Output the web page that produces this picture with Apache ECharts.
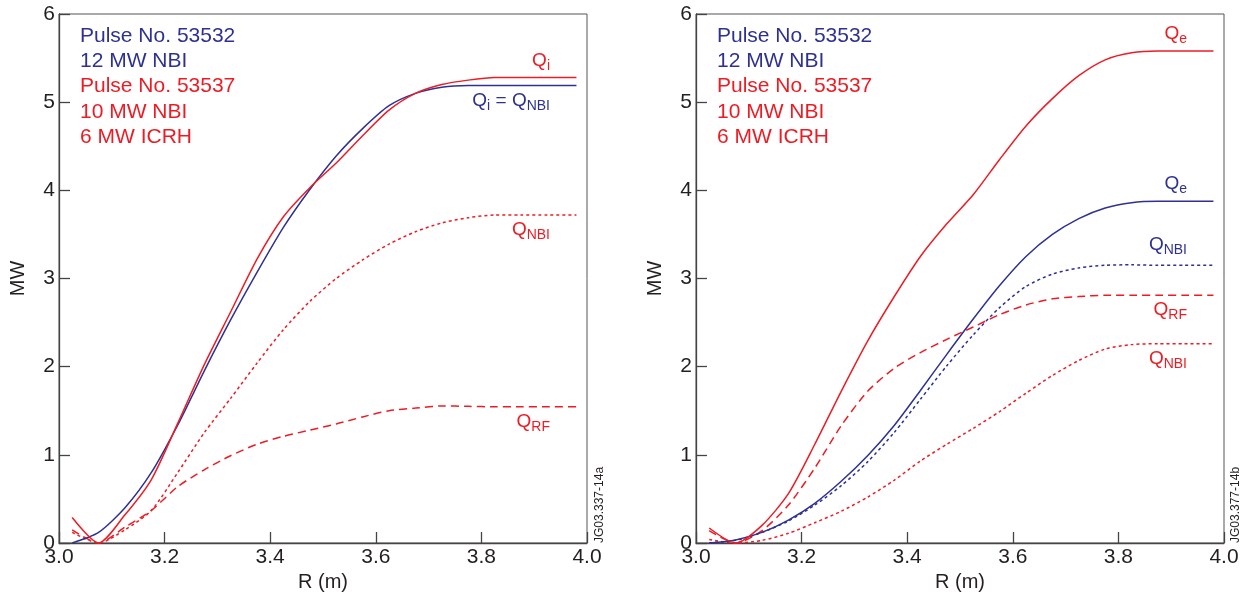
<!DOCTYPE html>
<html>
<head>
<meta charset="utf-8">
<script src="https://cdn.jsdelivr.net/npm/echarts@6/dist/echarts.min.js"></script>
<style>
  html, body { margin: 0; padding: 0; background: #fff; }
  #chart { width: 1251px; height: 599px; }
</style>
</head>
<body>
<div id="chart"></div>
<script>
// R (m) sample points shared by all curves
var rGrid = [3.025, 3.075, 3.125, 3.175, 3.225, 3.275, 3.325, 3.375, 3.425, 3.475,
  3.525, 3.575, 3.625, 3.675, 3.725, 3.775, 3.825, 3.875, 3.925, 3.98];

// left panel (a)
var leftQiNbiBlue = [0, 0.12, 0.40, 0.80, 1.34, 1.95, 2.53, 3.07, 3.58, 4.01,
  4.39, 4.70, 4.96, 5.10, 5.17, 5.19, 5.19, 5.19, 5.19, 5.19];
var leftQiRed = [0.29, 0, 0.32, 0.72, 1.36, 2.02, 2.62, 3.22, 3.70, 4.03,
  4.31, 4.62, 4.91, 5.10, 5.20, 5.25, 5.28, 5.28, 5.28, 5.28];
var leftQnbiRed = [0.12, 0, 0.15, 0.37, 0.80, 1.25, 1.64, 2.04, 2.42, 2.74,
  3.00, 3.21, 3.39, 3.53, 3.63, 3.69, 3.72, 3.72, 3.72, 3.72];
var leftQrfRed = [0.15, 0, 0.18, 0.37, 0.64, 0.83, 0.99, 1.12, 1.21, 1.28,
  1.35, 1.43, 1.50, 1.53, 1.555, 1.55, 1.545, 1.545, 1.545, 1.545];

// right panel (b)
var rightQeRed = [0.17, 0, 0.20, 0.56, 1.12, 1.72, 2.29, 2.79, 3.25, 3.62,
  3.95, 4.35, 4.73, 5.04, 5.30, 5.48, 5.56, 5.58, 5.58, 5.58];
var rightQrfRed = [0.14, 0, 0.14, 0.43, 0.85, 1.33, 1.72, 1.98, 2.16, 2.31,
  2.45, 2.59, 2.70, 2.77, 2.795, 2.81, 2.81, 2.81, 2.81, 2.81];
var rightQeBlue = [0, 0.035, 0.12, 0.26, 0.45, 0.70, 0.99, 1.33, 1.73, 2.14,
  2.54, 2.92, 3.25, 3.50, 3.68, 3.80, 3.86, 3.875, 3.875, 3.875];
var rightQnbiBlue = [0, 0.03, 0.12, 0.25, 0.43, 0.65, 0.92, 1.25, 1.63, 2.01,
  2.36, 2.67, 2.91, 3.05, 3.12, 3.15, 3.155, 3.15, 3.15, 3.15];
var rightQnbiRed = [0.04, 0, 0.03, 0.11, 0.23, 0.36, 0.52, 0.71, 0.93, 1.12,
  1.30, 1.49, 1.70, 1.90, 2.07, 2.20, 2.25, 2.26, 2.26, 2.26];

var BLUE = '#2e3192';
var RED = '#ed1c24';
var FONT = 'Liberation Sans, Arial, sans-serif';

function pairs(vals) {
  return rGrid.map(function (r, i) { return [r, vals[i]]; });
}

function makeX(idx) {
  return {
    gridIndex: idx, type: 'value', min: 3, max: 4, interval: 0.2,
    name: 'R (m)', nameLocation: 'middle', nameGap: 27,
    nameTextStyle: { fontSize: 20, color: '#231f20', fontFamily: FONT },
    axisLine: { lineStyle: { color: '#444', width: 1.3 } },
    axisTick: { inside: true, length: 11, lineStyle: { color: '#444', width: 1.3 } },
    axisLabel: { fontSize: 21, color: '#231f20', fontFamily: FONT, margin: 4,
      formatter: function (v) { return v.toFixed(1); } },
    splitLine: { show: false }
  };
}
function makeY(idx) {
  return {
    gridIndex: idx, type: 'value', min: 0, max: 6, interval: 1,
    name: 'MW', nameLocation: 'middle', nameGap: 31,
    nameTextStyle: { fontSize: 20, color: '#231f20', fontFamily: FONT },
    axisLine: { lineStyle: { color: '#444', width: 1.3 } },
    axisTick: { inside: true, length: 11, lineStyle: { color: '#444', width: 1.3 } },
    axisLabel: { fontSize: 21, color: '#231f20', fontFamily: FONT, margin: 4 },
    splitLine: { show: false }
  };
}
function line(idx, vals, color, type) {
  return {
    type: 'line', xAxisIndex: idx, yAxisIndex: idx, data: pairs(vals),
    symbol: 'none', smooth: 0.25,
    lineStyle: { color: color, width: 1.5, type: type },
    z: 3
  };
}

var dotted = [3, 3];
var dashed = [8, 5];

function qLabel(x, y, text, color) {
  return {
    type: 'text', x: x, y: y,
    style: {
      text: text, align: 'right', verticalAlign: 'middle', fill: color,
      fontFamily: FONT,
      rich: {
        q: { fontSize: 19, lineHeight: 24, fill: color, fontFamily: FONT },
        s: { fontSize: 14, lineHeight: 14, verticalAlign: 'bottom', fill: color, fontFamily: FONT }
      }
    }
  };
}
function infoText(x, y, text, color) {
  return {
    type: 'text', x: x, y: y,
    style: { text: text, fontSize: 21, fill: color, fontFamily: FONT,
      align: 'left', verticalAlign: 'middle' }
  };
}
function tag(x, text) {
  return {
    type: 'text', x: x, y: 543, rotation: Math.PI / 2,
    style: { text: text, fontSize: 12, fill: '#231f20', fontFamily: FONT,
      align: 'left', verticalAlign: 'middle' }
  };
}

var infoLines = [
  ['Pulse No. 53532', BLUE], ['12 MW NBI', BLUE],
  ['Pulse No. 53537', RED], ['10 MW NBI', RED], ['6 MW ICRH', RED]
];
var infoY = [36, 61, 86.5, 112, 137];

var graphics = [];
infoLines.forEach(function (l, i) {
  graphics.push(infoText(80, infoY[i], l[0], l[1]));
  graphics.push(infoText(717, infoY[i], l[0], l[1]));
});
graphics.push(qLabel(550, 61, '{q|Q}{s|i}', RED));
graphics.push(qLabel(550, 101, '{q|Q}{s|i}{q| = Q}{s|NBI}', BLUE));
graphics.push(qLabel(550, 230, '{q|Q}{s|NBI}', RED));
graphics.push(qLabel(550, 422, '{q|Q}{s|RF}', RED));
graphics.push(qLabel(1187, 34, '{q|Q}{s|e}', RED));
graphics.push(qLabel(1187, 184, '{q|Q}{s|e}', BLUE));
graphics.push(qLabel(1187, 245, '{q|Q}{s|NBI}', BLUE));
graphics.push(qLabel(1187, 310, '{q|Q}{s|RF}', RED));
graphics.push(qLabel(1187, 359, '{q|Q}{s|NBI}', RED));
graphics.push(tag(600, 'JG03.337-14a'));
graphics.push(tag(1236, 'JG03.377-14b'));

var myChart = echarts.init(document.getElementById('chart'));
myChart.setOption({
  animation: false,
  backgroundColor: '#fff',
  grid: [
    { left: 59, top: 14, width: 528, height: 529, show: true, borderColor: '#555', borderWidth: 1 },
    { left: 696, top: 14, width: 528, height: 529, show: true, borderColor: '#555', borderWidth: 1 }
  ],
  xAxis: [makeX(0), makeX(1)],
  yAxis: [makeY(0), makeY(1)],
  series: [
    line(0, leftQrfRed, RED, dashed),
    line(0, leftQnbiRed, RED, dotted),
    line(0, leftQiNbiBlue, BLUE, 'solid'),
    line(0, leftQiRed, RED, 'solid'),
    line(1, rightQnbiRed, RED, dotted),
    line(1, rightQrfRed, RED, dashed),
    line(1, rightQnbiBlue, BLUE, dotted),
    line(1, rightQeBlue, BLUE, 'solid'),
    line(1, rightQeRed, RED, 'solid')
  ],
  graphic: graphics
});
</script>
</body>
</html>
